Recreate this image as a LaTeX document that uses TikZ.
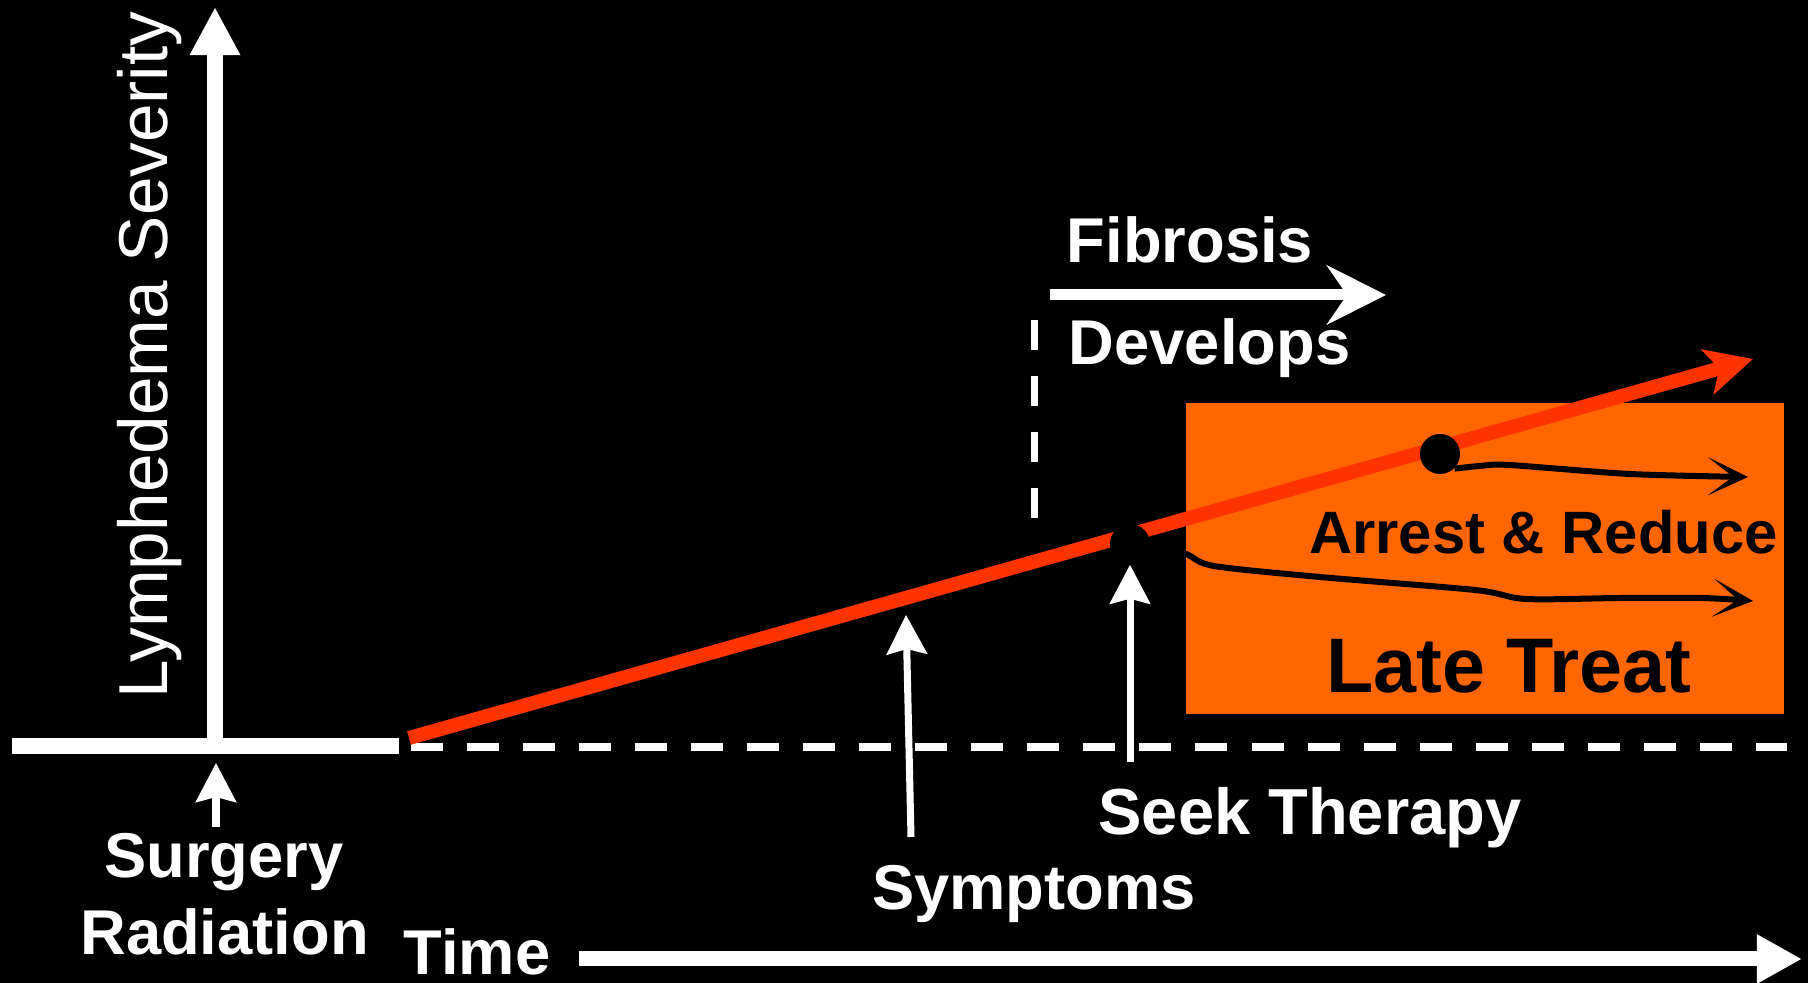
\documentclass[tikz,border=0pt]{standalone}
\usepackage{fontspec}
\setmainfont{Liberation Sans}
\usetikzlibrary{arrows.meta}
\definecolor{trendred}{HTML}{FF3300}
\definecolor{lateorange}{HTML}{FF6600}

\begin{document}
\begin{tikzpicture}[x=0.01cm,y=-0.01cm,
 lbl/.style={text=white,font=\bfseries\fontsize{18}{18}\selectfont,inner sep=0pt,anchor=base},
 blk/.style={text=black,font=\bfseries\fontsize{17}{17}\selectfont,inner sep=0pt,anchor=base},
 axisline/.style={white,line width=0.15cm},
 pointer/.style={white,line width=0.07cm,-{Stealth[length=0.39cm,width=0.40cm,inset=0.05cm]}},
 dashline/.style={white,line width=0.08cm,dash pattern=on 0.32cm off 0.24cm},
 dot/.style={circle,fill=black,inner sep=0pt,minimum size=0.4cm},
 trend/.style={black,line width=0.06cm,-{Stealth[length=0.40cm,width=0.38cm,inset=0.25cm]}}]
\useasboundingbox (0,0) rectangle (1808,983);
\fill[black] (0,0) rectangle (1808,983);
% late treatment zone
\fill[lateorange] (1186,403) rectangle (1784,714);
% axes
\coordinate (o) at (215,746);
\coordinate (ytop) at (215,7);
\coordinate (t0) at (579,959);
\coordinate (t1) at (1802,959);
\draw[white,line width=0.16cm] (12,746) -- (399,746);
\draw[axisline,-{Triangle[length=0.48cm,width=0.47cm]}] (o) -- (ytop);
\draw[axisline,-{Triangle[length=0.45cm,width=0.46cm]}] (t0) -- (t1);
\draw[dashline] (411,747) -- (1787,747);
\draw[white,line width=0.07cm,dash pattern=on 0.30cm off 0.26cm] (1034,320) -- (1034,518);
% labels
\node[lbl,font=\fontsize{19.7}{19.7}\selectfont,rotate=90] (sev) at (167,355) {Lymphedema Severity};
\node[lbl] (surg) at (224,878) {Surgery};
\node[lbl] (rad) at (224.5,955) {Radiation};
\node[lbl] (time) at (477,975) {Time};
\node[lbl] (symp) at (1034,910) {Symptoms};
\node[lbl,font=\bfseries\fontsize{18.5}{18.5}\selectfont] (seek) at (1310,835) {Seek Therapy};
\node[lbl] (fib) at (1190,263) {Fibrosis};
\node[lbl] (dev) at (1209.5,365) {Develops};
\node[blk] (arr) at (1543.5,554) {Arrest \& Reduce};
\node[blk,font=\bfseries\fontsize{22}{22}\selectfont] (late) at (1509,693) {Late Treat};
% fibrosis arrow
\coordinate (f0) at (1050,295);
\coordinate (f1) at (1386,295);
\draw[white,line width=0.11cm,-{Stealth[length=0.59cm,width=0.59cm,inset=0.2cm]}] (f0) -- (f1);
% severity trend
\coordinate (r0) at (409,738);
\coordinate (r1) at (1753,359);
\draw[trendred,line width=0.14cm,-{Stealth[length=0.47cm,width=0.46cm,inset=0.12cm]}] (r0) -- (r1);
\node[dot] (d1) at (1130,544) {};
\node[dot] (d2) at (1440,454) {};
\draw[trend] plot[smooth,tension=0.5] coordinates {(d2.south east) (1480,466) (1509,465) (1630,474) (1748,477)};
\draw[trend] plot[smooth,tension=0.5] coordinates {(d1.east) (1186,554) (1214,566) (1320,577) (1475,590) (1526,599) (1620,598) (1702,598) (1753,601)};
% event pointers
\coordinate (s0) at (216,827);
\coordinate (s1) at (216,763);
\coordinate (y0) at (911,837);
\coordinate (y1) at (906,615);
\coordinate (k0) at (1130,762);
\draw[pointer] (s0) -- (s1);
\draw[pointer] (y0) -- (y1);
\draw[pointer] (k0) -- (d1.south);
\end{tikzpicture}
\end{document}
